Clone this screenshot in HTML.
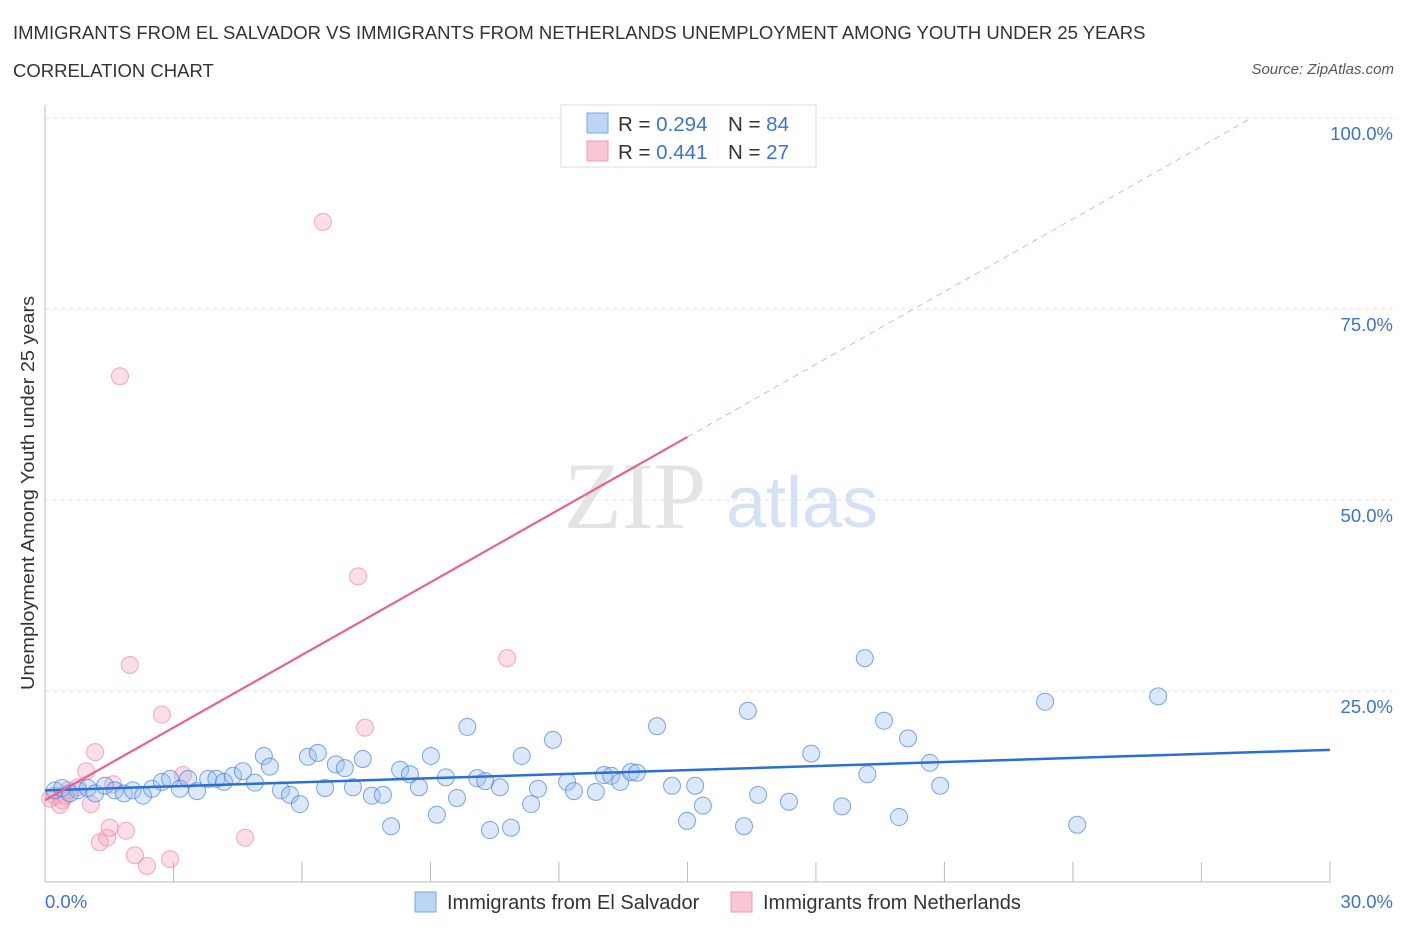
<!DOCTYPE html>
<html><head><meta charset="utf-8"><style>
body{margin:0;background:#fff;font-family:"Liberation Sans",sans-serif;}
#wrap{position:relative;width:1406px;height:930px;overflow:hidden;}
.t{position:absolute;white-space:nowrap;}
</style></head><body>
<div id="wrap">
<div class="t" style="left:13px;top:22px;font-size:18.5px;color:#333;">IMMIGRANTS FROM EL SALVADOR VS IMMIGRANTS FROM NETHERLANDS UNEMPLOYMENT AMONG YOUTH UNDER 25 YEARS</div>
<div class="t" style="left:13px;top:60px;font-size:18.5px;color:#333;">CORRELATION CHART</div>
<div class="t" style="right:12px;top:61px;font-size:15px;color:#555;font-style:italic;">Source: ZipAtlas.com</div>
<svg id="svg" width="1406" height="930" style="position:absolute;left:0;top:0"></svg>
</div>
<script>
const xTicks=[0,3,6,9,12,15,18,21,24,27,30];
const yTicks=[25,50,75,100];
const blueX=[0.23,0.4,0.58,0.77,1.0,1.17,1.4,1.63,1.84,2.05,2.29,2.5,2.73,2.92,3.15,3.34,3.55,3.81,4.0,4.18,4.39,4.62,4.9,5.11,5.25,5.51,5.72,5.95,6.14,6.37,6.54,6.79,7.0,7.19,7.42,7.63,7.89,8.08,8.29,8.52,8.73,9.01,9.15,9.36,9.62,9.86,10.09,10.28,10.39,10.62,10.88,11.13,11.35,11.51,11.86,12.19,12.35,12.86,13.05,13.22,13.43,13.68,13.82,14.29,14.64,14.99,15.18,15.36,16.32,16.41,16.65,17.37,17.89,18.61,19.14,19.2,19.59,19.94,20.15,20.66,20.9,23.35,24.1,25.99];
const blueY=[12.0,12.3,11.6,12.0,12.3,11.6,12.6,12.0,11.6,12.0,11.3,12.2,13.1,13.5,12.2,13.5,11.9,13.5,13.5,13.1,13.9,14.5,13.0,16.5,15.1,12.0,11.4,10.2,16.4,16.9,12.3,15.4,14.9,12.4,16.1,11.3,11.4,7.3,14.7,14.1,12.4,16.5,8.8,13.7,11.0,20.3,13.6,13.2,6.8,12.4,7.1,16.5,10.2,12.2,18.6,13.1,11.9,11.8,14.0,13.9,13.1,14.4,14.3,20.4,12.6,8.0,12.6,10.0,7.3,22.4,11.4,10.5,16.8,9.9,29.3,14.1,21.1,8.5,18.8,15.6,12.6,23.6,7.5,24.3];
const pinkX=[0.12,0.23,0.4,0.54,0.77,0.96,1.07,1.17,1.28,1.45,1.51,1.59,1.75,1.89,1.98,2.1,2.38,2.73,2.92,3.22,4.67,6.49,7.31,7.47,10.79,0.35,0.47];
const pinkY=[10.9,11.3,10.7,12.0,12.4,14.5,10.2,17.0,5.2,5.8,7.1,12.8,66.2,6.7,28.4,3.5,2.1,21.9,3.0,14.0,5.8,86.4,40.0,20.2,29.3,10.1,11.3];
const blueLine=[12.0,17.3];
const pinkLine=[10.7,3.17];
const NS="http://www.w3.org/2000/svg";
const svg=document.getElementById('svg');
const X=v=>45+v*42.83, Y=v=>882-v*7.64;
function mk(t,a){const e=document.createElementNS(NS,t);for(const k in a)e.setAttribute(k,a[k]);svg.appendChild(e);return e;}
yTicks.forEach(v=>{
 const g=mk('line',{x1:45,x2:1395,y1:Y(v),y2:Y(v),stroke:'#e2e2e2','stroke-dasharray':'4,4'});
 
 
 const t=mk('text',{x:1393,y:Y(v)+22,'text-anchor':'end','font-size':18.5,fill:'#3c72d2','font-family':'Liberation Sans'});
 t.textContent=v.toFixed(1)+'%';
 
 
});
const ax=mk('line',{x1:45,x2:45,y1:105,y2:882,stroke:'#bbb'});


const bx=mk('line',{x1:45,x2:1330,y1:882,y2:882,stroke:'#bbb'});


xTicks.forEach(v=>{
 const l=mk('line',{x1:X(v),x2:X(v),y1:862,y2:882,stroke:'#bbb'});
 
 
});
[[0,'start',45],[30,'end',1393]].forEach(([v,a,x])=>{
 const t=mk('text',{x:x,y:908,'text-anchor':a,'font-size':18.5,fill:'#3c72d2','font-family':'Liberation Sans'});
 t.textContent=v.toFixed(1)+'%';
 
 
});
const yt=mk('text',{x:34,y:493,transform:'rotate(-90 34 493)','text-anchor':'middle','font-size':18.5,fill:'#333','font-family':'Liberation Sans',textLength:394,lengthAdjust:'spacingAndGlyphs'});
yt.textContent='Unemployment Among Youth under 25 years';


const w1=mk('text',{x:635,y:528,'text-anchor':'middle','font-size':95,fill:'#e4e4e4','font-family':'Liberation Serif'});
w1.textContent='ZIP';


const w2=mk('text',{x:802,y:527,'text-anchor':'middle','font-size':72,fill:'#d5e2f5','font-family':'Liberation Sans'});
w2.textContent='atlas';


pinkX.forEach((x,i)=>{
 const c=mk('circle',{cx:X(x),cy:Y(pinkY[i]),r:8.5,fill:'rgba(245,160,185,0.35)',stroke:'rgba(230,120,150,0.6)','stroke-width':1});
 
 
});
blueX.forEach((x,i)=>{
 const c=mk('circle',{cx:X(x),cy:Y(blueY[i]),r:8.5,fill:'rgba(150,190,240,0.35)',stroke:'rgba(60,120,215,0.65)','stroke-width':1});
 
 
});
const bl=mk('line',{x1:X(0),y1:Y(blueLine[0]),x2:X(30),y2:Y(blueLine[1]),stroke:'#2a6fd6','stroke-width':2.5});


const pl=mk('line',{x1:X(0),y1:Y(pinkLine[0]),x2:X(15),y2:Y(pinkLine[0]+pinkLine[1]*15),stroke:'#e8638f','stroke-width':2.2});


const xe=(100-pinkLine[0])/pinkLine[1];
const pd=mk('line',{x1:X(15),y1:Y(pinkLine[0]+pinkLine[1]*15),x2:X(xe),y2:Y(100),stroke:'#eab0c2','stroke-width':1,'stroke-dasharray':'6,5'});


const lb=mk('rect',{x:561,y:105,width:255,height:62,fill:'#fff',stroke:'#ddd'});


[['#bcd4f5','#7ba7e6','0.294','84',123],['#f9c6d4','#eb9cb4','0.441','27',151]].forEach(r=>{
 const s=mk('rect',{x:587,y:r[4]-10,width:21,height:20,fill:r[0],stroke:r[1]});
 
 
 const t=mk('text',{x:618,y:r[4]+8,'font-size':20.5,fill:'#333','font-family':'Liberation Sans'});
 t.innerHTML='R = <tspan fill="#3c72d2">'+(r[2]==='0.294'?'':' ')+r[2]+'</tspan>';
 
 
 const n=mk('text',{x:728,y:r[4]+8,'font-size':20.5,fill:'#333','font-family':'Liberation Sans'});
 n.innerHTML='N = <tspan fill="#3c72d2">'+(r[3]==='27'?' ':'')+r[3]+'</tspan>';
 
 
});
[[415,'#bcd4f5','#7ba7e6','Immigrants from El Salvador',447],[731,'#f9c6d4','#eb9cb4','Immigrants from Netherlands',763]].forEach(r=>{
 const s=mk('rect',{x:r[0],y:892,width:21,height:20,fill:r[1],stroke:r[2]});
 
 
 const t=mk('text',{x:r[4],y:909,'font-size':20,fill:'#333','font-family':'Liberation Sans'});
 t.textContent=r[3];
 
 
});
</script>
</body></html>
